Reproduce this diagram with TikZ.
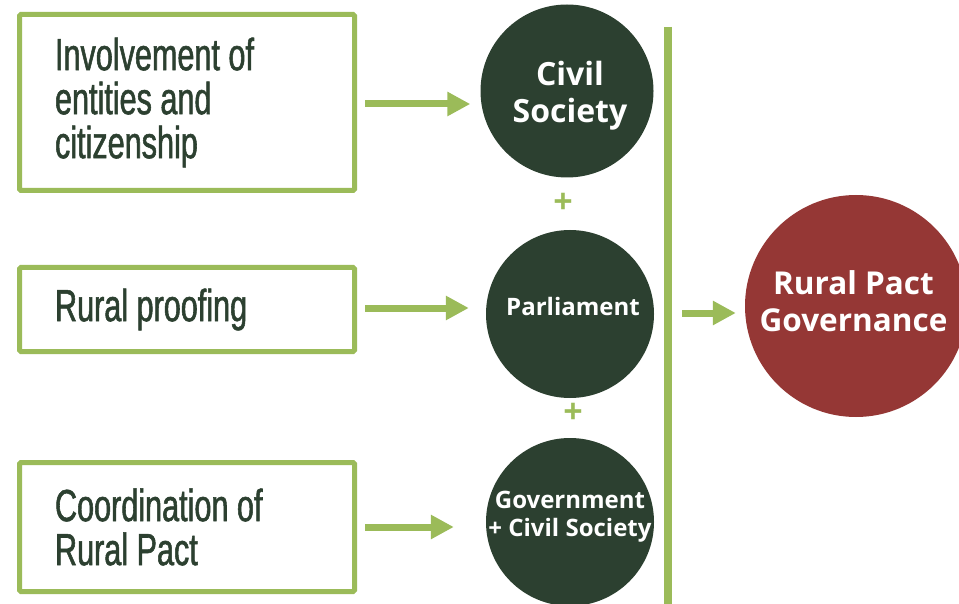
\documentclass[tikz,border=0pt]{standalone}
\usepackage{fontspec}
\setmainfont{Open Sans}
\newfontfamily\narrowfont[FakeStretch=0.68,FakeBold=1.2]{Liberation Sans}
\usepackage{tikz}
\usetikzlibrary{arrows.meta}
\usetikzlibrary{calc}
\definecolor{leafgreen}{RGB}{155,187,89}
\definecolor{forest}{RGB}{44,64,48}
\definecolor{brick}{RGB}{149,55,53}
\tikzset{
  inbox/.style={draw=leafgreen, line width=5pt, rounded corners=1.5pt, minimum width=335pt,
    text width=264pt, inner xsep=35.5pt, align=flush left, text=forest,
    font=\narrowfont\fontsize{45}{44}\selectfont},
  bubble/.style={circle, fill=forest, inner sep=0pt},
  bubtext/.style={text=white, align=center, inner sep=0pt},
  push/.style={leafgreen, line width=7pt, -{Triangle[length=23pt,width=23pt]}},
  plus/.style={text=leafgreen, font=\bfseries\fontsize{34}{34}\selectfont}
}

\begin{document}
\begin{tikzpicture}[x=1pt,y=-1pt]
\useasboundingbox (0,0) rectangle (959,604);
\node[inbox, minimum height=176pt] (inv) at (187,102.5) {Involvement of\\entities and\\citizenship};
\node[inbox, minimum height=84pt] (proof) at (187,309.5) {Rural proofing};
\node[inbox, minimum height=129pt] (coord) at (187,527) {Coordination of\\Rural Pact};
\node[bubble, minimum size=173pt] (civil) at (567,91) {};
\node[bubble, minimum size=168pt] (parl) at (570,314) {};
\node[bubble, minimum size=168pt] (govt) at (570,522) {};
\node[bubble, fill=brick, minimum size=222pt] (pact) at (856,306) {};
\node[bubtext, font=\bfseries\fontsize{32}{37}\selectfont] (civiltext) at ($(civil)+(3,5)$) {Civil\\Society};
\node[bubtext, font=\bfseries\fontsize{24}{27}\selectfont] (parltext) at ($(parl)+(3,-7)$) {Parliament};
\node[bubtext, font=\bfseries\fontsize{24}{28}\selectfont] (govttext) at ($(govt)+(0,-5)$) {Government\\+ Civil Society};
\node[bubtext, font=\bfseries\fontsize{31.5}{37}\selectfont] (pacttext) at ($(pact)+(-2.5,-5)$) {Rural Pact\\Governance};
\node[plus] (p1) at (563,203) {+};
\node[plus] (p2) at (573,413) {+};
\coordinate (bartop) at (668,27);
\coordinate (barbot) at (668,604);
\coordinate (bar) at (668,313);
\coordinate (a1) at ($(inv.east)+(0,1.5)$);
\coordinate (a2) at ($(proof.east)+(0,-1.5)$);
\draw[leafgreen, line width=8pt] (bartop) -- (barbot);
\draw[push, shorten <=8pt, shorten >=10pt] (a1) -- (a1 -| civil.west);
\draw[push, shorten <=8pt, shorten >=17pt] (a2) -- (a2 -| parl.west);
\draw[push, shorten <=8pt, shorten >=32pt] (coord.east) -- (coord.east -| govt.west);
\draw[push, shorten <=14pt, shorten >=9pt] (bar) -- (bar -| pact.west);
\end{tikzpicture}
\end{document}
